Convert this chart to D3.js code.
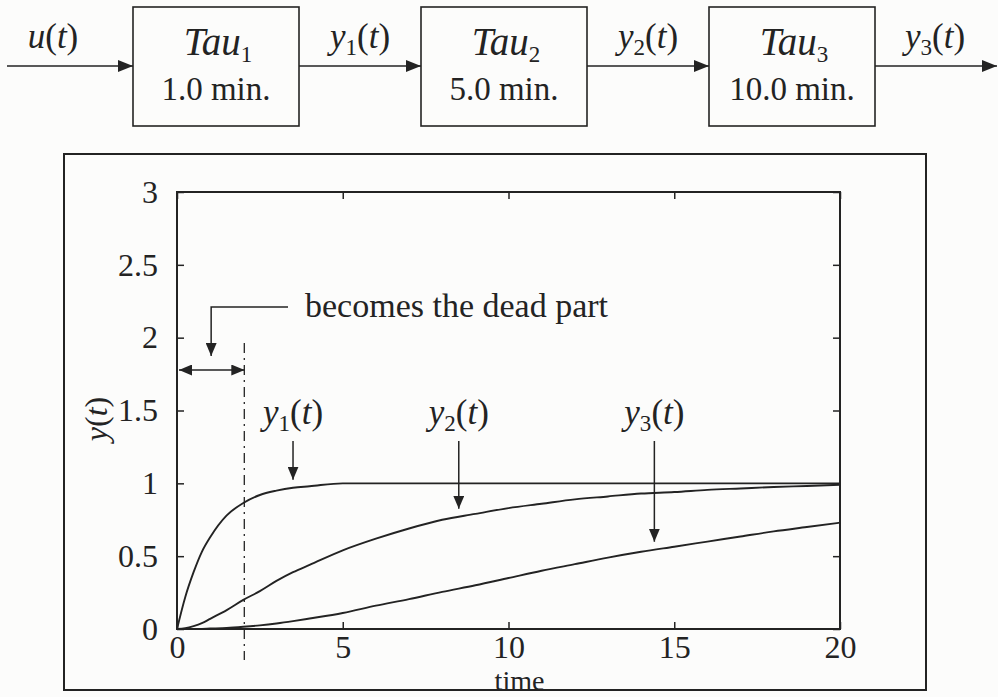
<!DOCTYPE html>
<html>
<head>
<meta charset="utf-8">
<script src="https://cdn.jsdelivr.net/npm/d3@7"></script>
<style>
  html, body { margin: 0; padding: 0; background: #fcfcfb; }
  svg { display: block; font-family: "Liberation Serif", "Times New Roman", serif; }
</style>
</head>
<body>
<svg id="chart"></svg>
<script>
const width = 998;
const height = 697;

// block diagram
const blockNames = ["Tau", "Tau", "Tau"];
const blockIndex = ["1", "2", "3"];
const blockTimes = ["1.0 min.", "5.0 min.", "10.0 min."];
const signalNames = ["u", "y", "y", "y"];
const signalIndex = ["", "1", "2", "3"];

// step responses
const time = [0, 0.25, 0.5, 0.75, 1, 1.5, 2, 2.5, 3, 3.5, 4, 5, 6, 7, 8, 9, 10, 11, 12, 13, 14, 15, 16, 17, 18, 19, 20];
const y1 = [0, 0.22, 0.39, 0.53, 0.63, 0.78, 0.865, 0.92, 0.95, 0.97, 0.98, 1, 1, 1, 1, 1, 1, 1, 1, 1, 1, 1, 1, 1, 1, 1, 1];
const y2 = [0, 0.006, 0.02, 0.04, 0.07, 0.13, 0.2, 0.26, 0.33, 0.39, 0.44, 0.54, 0.62, 0.69, 0.75, 0.79, 0.83, 0.86, 0.89, 0.91, 0.93, 0.94, 0.955, 0.965, 0.975, 0.982, 0.99];
const y3 = [0, 0, 0, 0.001, 0.003, 0.007, 0.015, 0.025, 0.038, 0.054, 0.072, 0.11, 0.16, 0.205, 0.255, 0.3, 0.35, 0.4, 0.445, 0.49, 0.53, 0.565, 0.6, 0.635, 0.67, 0.7, 0.73];

const xTicks = [0, 5, 10, 15, 20];
const xTickLabels = ["0", "5", "10", "15", "20"];
const yTicks = [0, 0.5, 1, 1.5, 2, 2.5, 3];
const yTickLabels = ["0", "0.5", "1", "1.5", "2", "2.5", "3"];

const deadTime = 2;
// where the curve labels point (time on x axis)
const labelTimes = [3.5, 8.5, 14.4];

const ink = "#232323";

const svg = d3.select("#chart").attr("width", width).attr("height", height);

const defs = svg.append("defs");
defs.append("marker")
  .attr("id", "head")
  .attr("viewBox", "0 0 13 11")
  .attr("refX", 13).attr("refY", 5.5)
  .attr("markerWidth", 13).attr("markerHeight", 11)
  .attr("markerUnits", "userSpaceOnUse")
  .attr("orient", "auto-start-reverse")
  .append("path").attr("d", "M0,0L13,5.5L0,11Z").attr("fill", ink);
defs.append("marker")
  .attr("id", "bighead")
  .attr("viewBox", "0 0 15 12")
  .attr("refX", 15).attr("refY", 6)
  .attr("markerWidth", 15).attr("markerHeight", 12)
  .attr("markerUnits", "userSpaceOnUse")
  .attr("orient", "auto")
  .append("path").attr("d", "M0,0L15,6L0,12Z").attr("fill", ink);

// text like y_1(t): italic name, small index, (italic t)
function signalLabel(g, x, y, name, idx, size, anchor) {
  const t = g.append("text")
    .attr("x", x).attr("y", y)
    .attr("text-anchor", anchor || "middle")
    .attr("font-size", size)
    .attr("fill", ink);
  t.append("tspan").attr("font-style", "italic").text(name);
  if (idx) {
    t.append("tspan").attr("font-size", size * 0.66).attr("dy", size * 0.2).text(idx);
    t.append("tspan").attr("dy", -size * 0.2).text("(");
  } else {
    t.append("tspan").text("(");
  }
  t.append("tspan").attr("font-style", "italic").text("t");
  t.append("tspan").text(")");
  return t;
}

// ---------- block diagram ----------
const diagram = svg.append("g");
const boxX = d3.scaleOrdinal().domain(blockNames.map((d, i) => i)).range([133, 421, 709]);
const boxW = 166, boxTop = 7, boxH = 119, arrowY = 66;

blockNames.forEach((name, i) => {
  const x0 = boxX(i);
  diagram.append("rect")
    .attr("x", x0).attr("y", boxTop)
    .attr("width", boxW).attr("height", boxH)
    .attr("fill", "none").attr("stroke", ink).attr("stroke-width", 1.6);
  const t = diagram.append("text")
    .attr("x", x0 + boxW / 2 + 2).attr("y", 55)
    .attr("text-anchor", "middle").attr("font-size", 39).attr("fill", ink);
  t.append("tspan").attr("font-style", "italic").text(name);
  t.append("tspan").attr("font-size", 23).attr("dy", 7).text(blockIndex[i]);
  diagram.append("text")
    .attr("x", x0 + boxW / 2).attr("y", 100)
    .attr("text-anchor", "middle").attr("font-size", 33).attr("fill", ink)
    .text(blockTimes[i]);
});

signalNames.forEach((name, i) => {
  const xs = i === 0 ? 7 : boxX(i - 1) + boxW;
  const xe = i === 3 ? 997 : boxX(i);
  diagram.append("line")
    .attr("x1", xs).attr("x2", xe)
    .attr("y1", arrowY).attr("y2", arrowY)
    .attr("stroke", ink).attr("stroke-width", 1.6)
    .attr("marker-end", "url(#bighead)");
  const cx = i === 0 ? 53 : i === 3 ? 935 : (xs + xe) / 2;
  signalLabel(diagram, cx, 48, name, signalIndex[i], 35);
});

// ---------- plot ----------
svg.append("rect")
  .attr("x", 64).attr("y", 154)
  .attr("width", 862).attr("height", 536)
  .attr("fill", "none").attr("stroke", ink).attr("stroke-width", 2);

const x = d3.scaleLinear().domain([0, 20]).range([177, 840]);
const y = d3.scaleLinear().domain([0, 3]).range([629, 192]);

const axisFont = (g) => {
  g.attr("font-family", null).attr("font-size", null);
  g.select(".domain").remove();
  g.selectAll("line").attr("stroke", ink).attr("stroke-width", 1.5);
  g.selectAll("text").attr("font-size", 32).attr("fill", ink);
};

svg.append("g")
  .attr("transform", `translate(0,${y(0)})`)
  .call(d3.axisBottom(x).tickValues(xTicks).tickFormat((d, i) => xTickLabels[i]).tickSize(-7).tickPadding(6))
  .call(axisFont);
svg.append("g")
  .attr("transform", `translate(0,${y(3)})`)
  .call(d3.axisTop(x).tickValues(xTicks).tickFormat("").tickSize(-7))
  .call(axisFont);
svg.append("g")
  .attr("transform", `translate(${x(0)},0)`)
  .call(d3.axisLeft(y).tickValues(yTicks).tickFormat((d, i) => yTickLabels[i]).tickSize(-7).tickPadding(19))
  .call(axisFont);
svg.append("g")
  .attr("transform", `translate(${x(20)},0)`)
  .call(d3.axisRight(y).tickValues(yTicks).tickFormat("").tickSize(-7))
  .call(axisFont);

svg.append("rect")
  .attr("x", x(0)).attr("y", y(3))
  .attr("width", x(20) - x(0)).attr("height", y(0) - y(3))
  .attr("fill", "none").attr("stroke", ink).attr("stroke-width", 2);

// axis titles
svg.append("text")
  .attr("x", (x(0) + x(20)) / 2 + 11).attr("y", 690)
  .attr("text-anchor", "middle").attr("font-size", 28).attr("fill", ink)
  .text("time");
const yl = svg.append("g").attr("transform", "translate(107,419) rotate(-90)");
const ylt = yl.append("text").attr("text-anchor", "middle").attr("font-size", 32).attr("fill", ink);
ylt.append("tspan").attr("font-style", "italic").text("y");
ylt.append("tspan").text("(");
ylt.append("tspan").attr("font-style", "italic").text("t");
ylt.append("tspan").text(")");

// curves
const series = [y1, y2, y3];
const line = d3.line()
  .x((d, i) => x(time[i]))
  .y((d) => y(d))
  .curve(d3.curveMonotoneX);
svg.append("g")
  .selectAll("path")
  .data(series)
  .join("path")
  .attr("d", line)
  .attr("fill", "none")
  .attr("stroke", ink)
  .attr("stroke-width", 1.9);

// dead time marker
svg.append("line")
  .attr("x1", x(deadTime) + 1).attr("x2", x(deadTime) + 1)
  .attr("y1", 343).attr("y2", 660)
  .attr("stroke", ink).attr("stroke-width", 1.3)
  .attr("stroke-dasharray", "10,5,2,5");
svg.append("line")
  .attr("x1", x(0) + 2).attr("x2", x(deadTime) + 1)
  .attr("y1", 370).attr("y2", 370)
  .attr("stroke", ink).attr("stroke-width", 1.5)
  .attr("marker-start", "url(#head)")
  .attr("marker-end", "url(#head)");
svg.append("path")
  .attr("d", `M288,307H${x(deadTime / 2) + 1}V356`)
  .attr("fill", "none")
  .attr("stroke", ink).attr("stroke-width", 1.5)
  .attr("marker-end", "url(#head)");
svg.append("text")
  .attr("x", 305).attr("y", 317)
  .attr("font-size", 34).attr("fill", ink)
  .text("becomes the dead part");

// curve labels with arrows
series.forEach((s, i) => {
  const tx = labelTimes[i];
  const xi = d3.bisectLeft(time, tx);
  const frac = (tx - time[xi - 1]) / (time[xi] - time[xi - 1]);
  const v = s[xi - 1] + frac * (s[xi] - s[xi - 1]);
  signalLabel(svg, x(tx), 424, "y", String(i + 1), 35);
  svg.append("line")
    .attr("x1", x(tx)).attr("x2", x(tx))
    .attr("y1", 441).attr("y2", y(v) - 8)
    .attr("stroke", ink).attr("stroke-width", 1.5)
    .attr("marker-end", "url(#head)");
});
</script>
</body>
</html>
